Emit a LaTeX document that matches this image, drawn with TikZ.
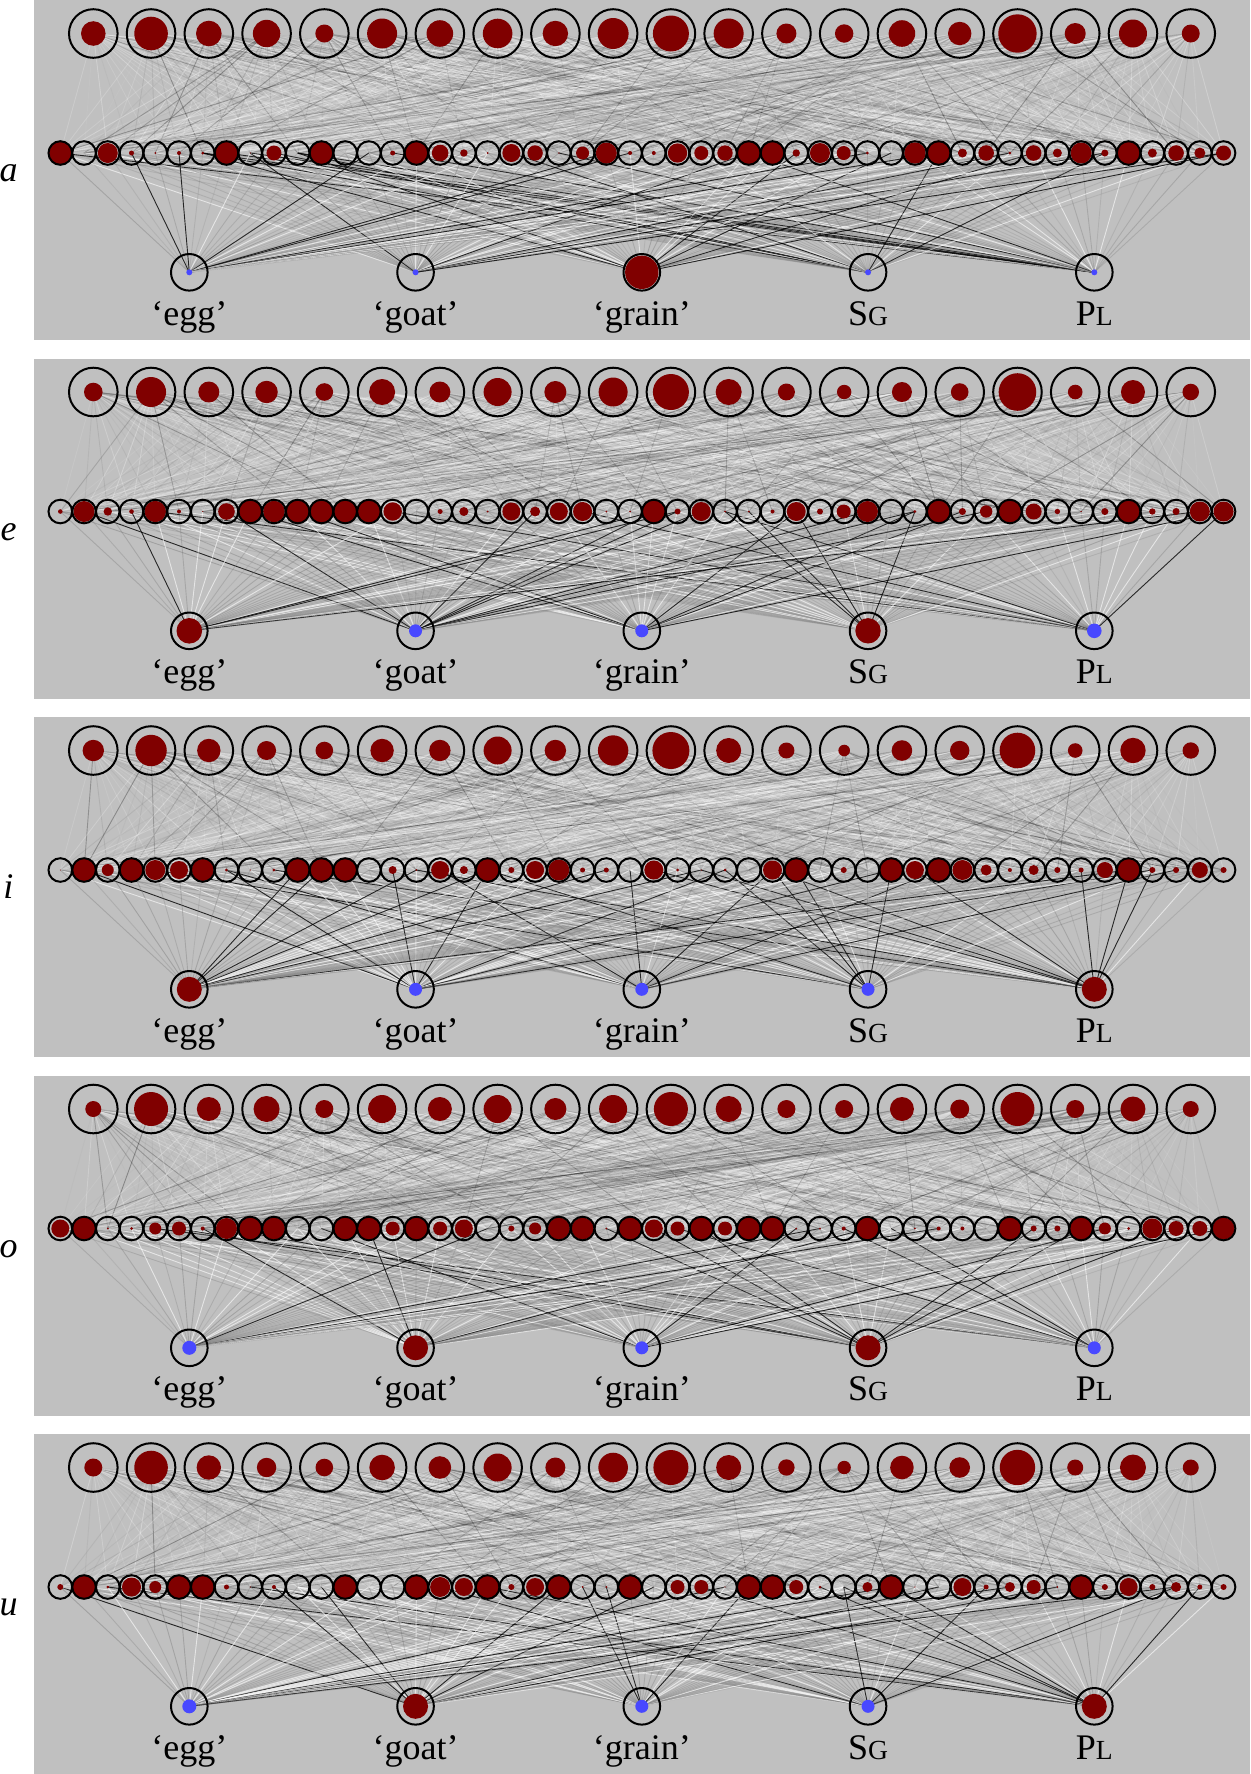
\documentclass[tikz,border=0pt]{standalone}
\usepackage{fontspec}
\setmainfont{Liberation Serif}
\definecolor{panelgray}{RGB}{192,192,192}
\definecolor{dotred}{RGB}{128,0,0}
\definecolor{dotblue}{RGB}{72,72,255}
\pgfdeclarelayer{panelbg}
\pgfdeclarelayer{edgelayer}
\pgfdeclarelayer{dotlayer}
\pgfsetlayers{panelbg,edgelayer,dotlayer,main}
\tikzset{
  topnode/.style={circle, draw=black, line width=1pt, minimum size=24.3pt, inner sep=0pt},
  midnode/.style={circle, draw=black, line width=1pt, minimum size=11.8pt, inner sep=0pt},
  botnode/.style={circle, draw=black, line width=1pt, minimum size=18.3pt, inner sep=0pt},
  panelbox/.style={fill=panelgray, draw=none},
  rowlabel/.style={font=\fontsize{18}{21}\selectfont\itshape, anchor=base, inner sep=0pt},
  featlabel/.style={font=\fontsize{18}{21}\selectfont, anchor=base, inner sep=0pt},
  edgeline/.style={line width=0.45pt},
}
\newcommand\smcap[1]{{\fontsize{13.8}{16}\selectfont #1}}
\newcommand\drawpanel[6]{%
  % #1 id, #2 y offset, #3 letter, #4 top radii, #5 middle radii, #6 bottom colour/radius
  \begin{pgfonlayer}{panelbg}
    \fill[panelbox] (34,#2) rectangle (1250,{#2+340});
  \end{pgfonlayer}
  \node[rowlabel] (lab-#1) at (8.5,{#2+181.5}) {#3};
  \foreach \rr [count=\j] in {#4} {
    \node[topnode] (t-#1-\j) at ({93.3+(\j-1)*57.76},{#2+33.5}) {};
  }
  \foreach \rr [count=\k] in {#5} {
    \node[midnode] (m-#1-\k) at ({60.3+(\k-1)*23.74},{#2+153}) {};
  }
  \foreach \cc/\rr [count=\m] in {#6} {
    \node[botnode] (b-#1-\m) at ({189.3+(\m-1)*226.25},{#2+272.3}) {};
  }
  \foreach \txt [count=\m] in {‘egg’, ‘goat’, ‘grain’, S\smcap{G}, P\smcap{L}} {
    \node[featlabel] (bl-#1-\m) at ({189.3+(\m-1)*226.25},{#2+325}) {\txt};
  }
  \begin{pgfonlayer}{dotlayer}
    \foreach \rr [count=\j] in {#4} {
      \fill[dotred] (t-#1-\j.center) circle[radius=\rr*0.5pt];
    }
    \foreach \rr [count=\k] in {#5} {
      \fill[dotred] (m-#1-\k.center) circle[radius=\rr*0.5pt];
    }
    \foreach \cc/\rr [count=\m] in {#6} {
      \fill[\cc] (b-#1-\m.center) circle[radius=\rr*0.5pt];
    }
  \end{pgfonlayer}
  \begin{pgfonlayer}{edgelayer}
    \foreach \j in {1,...,20} {
      \foreach \k in {1,...,50} {
        \pgfmathsetmacro\rv{rnd}
        \pgfmathtruncatemacro\gv{\rv<0.55 ? 0 : (\rv<0.87 ? 45 : 100)}
        \pgfmathsetmacro\ov{0.05+0.25*rnd}
        \draw[edgeline, draw=black!\gv, opacity=\ov] (t-#1-\j.center) -- (m-#1-\k.center);
      }
    }
    \foreach \k in {1,...,50} {
      \foreach \m in {1,...,5} {
        \pgfmathsetmacro\rv{rnd}
        \pgfmathtruncatemacro\gv{\rv<0.12 ? 100 : (\rv<0.34 ? 0 : 55)}
        \pgfmathsetmacro\ov{\rv<0.12 ? 0.8 : (\rv<0.34 ? 0.6 : 0.15+0.25*rnd)}
        \draw[edgeline, draw=black!\gv, opacity=\ov] (m-#1-\k.center) -- (b-#1-\m.center);
      }
    }
  \end{pgfonlayer}
}
\begin{document}
\begin{tikzpicture}[x=0.5pt,y=-0.5pt]
\pgfmathsetseed{4242}
\useasboundingbox (0,0) rectangle (1250,1774);
\begin{pgfonlayer}{panelbg}
  \fill[white] (0,0) rectangle (1250,1774);
\end{pgfonlayer}
\drawpanel{a}{0}{a}
 {12.3,16.8,12.8,13.7,9,15,13.3,14.8,12.7,15.5,18,15,10,9.2,13.3,11.7,19.2,10.5,14,9}
 {11.5,0,10,2.5,1,2,1.5,11.5,0.7,7.5,0,11.5,0,0,2.5,11.5,8.3,3.7,1,9,7.7,0.7,6.5,10.5,2,2,9.7,7,7.7,11.5,11.3,3.7,10,7,1.5,0,10.7,11.5,4.5,7.8,1.5,7.8,4.5,10.5,3.5,11.5,4.5,7.8,5.5,7.5}
 {dotblue/3,dotblue/3,dotred/16.7,dotblue/3,dotblue/3}
\drawpanel{e}{358.5}{e}
 {9.3,15,10.5,11.2,8.8,13,10.5,14,11,14.5,18,13,8.5,7.2,10,8.8,18.8,7.3,12,8.3}
 {2.3,10.5,4.2,2.3,10.7,2,0.7,8.3,11.5,10.8,11.5,11.5,11.5,11.5,9.2,0,2.5,4.5,1,9,5,9,9.5,1,1,11.5,3,9.5,1,1,2,9.5,3,7,10.5,0,1.5,11.5,3.5,6.2,11.3,8,2.7,0.7,3.5,11.5,3.2,3.5,10,10}
 {dotred/12.8,dotblue/6.5,dotblue/6.5,dotred/12.7,dotblue/7.3}
\drawpanel{i}{717}{i}
 {10.7,15.7,11.7,9.5,8.8,11.7,10.7,14,10.7,15.2,18.5,12.5,8,5.8,10.3,9.7,17.8,7.3,12.7,8.2}
 {0.5,11.5,6,11.5,10,9,11,1.5,0.7,1.5,11.5,11.5,11.5,0,4,1,9,4,11.5,3,9,10.5,2.5,2.5,0,9.5,1.5,0.7,1.5,0,9.5,11.5,0,3,0,11.5,9,11.5,10,5.5,2,5,3,2.5,8,11.5,3,3,8,3}
 {dotred/12.5,dotblue/6.5,dotblue/6.5,dotblue/6.5,dotred/12.5}
\drawpanel{o}{1075.5}{o}
 {8,17,12,13,9,14,12,14,11,14,17,13,9,9,12,9.5,17,9,12.5,8}
 {9,11.5,1,1.5,6,7,2,10.5,11.5,11,0,0,11.5,11.5,7,11.5,7,9,0,3,6,11,11,1,11.5,9,7,11.5,7,11.5,11.5,1,1,2,11.5,0,1,2,2,0,11.5,3,3,11.5,6,1.5,10,7.5,7.5,11}
 {dotblue/7,dotred/12.5,dotblue/6.5,dotred/12.5,dotblue/6.5}
\drawpanel{u}{1434}{u}
 {9,16.8,12.2,9.7,8.8,12.8,11.3,14,10,14.8,17.5,12.5,8.2,6.7,11.8,10.3,17.7,8,13,8}
 {3,11.5,1.5,9.5,6,11.5,11.5,2.5,0.7,2,0,0,11.5,0,0,11.5,10,9,11.5,3,9,11.5,1,1,11.5,0,7,7,0.7,11.5,11.5,7,1.5,0,5,11.5,0.7,0,9,2.5,5,7,1,11.5,3,9,3,5,2.5,3}
 {dotblue/7,dotred/12.5,dotblue/6.5,dotblue/6.5,dotred/12.5}
\end{tikzpicture}
\end{document}
